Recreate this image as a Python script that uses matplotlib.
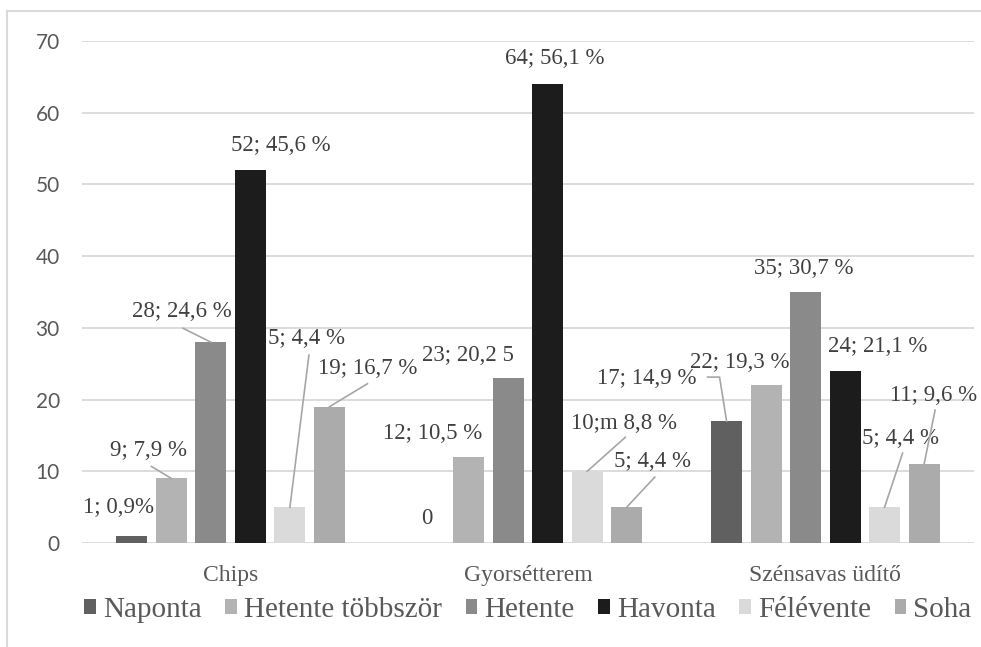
import numpy as np
import matplotlib.pyplot as plt
from matplotlib.lines import Line2D

# data
categories = ["Chips", "Gyorsétterem", "Szénsavas üdítő"]
series_names = ["Naponta", "Hetente többször", "Hetente", "Havonta", "Félévente", "Soha"]
naponta = [1, 0, 17]
hetente_tobbszor = [9, 12, 22]
hetente = [28, 23, 35]
havonta = [52, 64, 24]
felevente = [5, 10, 5]
soha = [19, 5, 11]

lab_naponta = ["1; 0,9%", "0", "17; 14,9 %"]
lab_hetente_tobbszor = ["9; 7,9 %", "12; 10,5 %", "22; 19,3 %"]
lab_hetente = ["28; 24,6 %", "23; 20,2 5", "35; 30,7 %"]
lab_havonta = ["52; 45,6 %", "64; 56,1 %", "24; 21,1 %"]
lab_felevente = ["5; 4,4 %", "10;m 8,8 %", "5; 4,4 %"]
lab_soha = ["19; 16,7 %", "5; 4,4 %", "11; 9,6 %"]

values = [naponta, hetente_tobbszor, hetente, havonta, felevente, soha]
labels = [lab_naponta, lab_hetente_tobbszor, lab_hetente, lab_havonta, lab_felevente, lab_soha]
colors = ["#606060", "#b3b3b3", "#8a8a8a", "#1c1c1c", "#dadada", "#ababab"]

# label placement (pixels from bar top), and leader lines
label_off = [
    [(-13, 28), (-2, 25), (-80, 43)],
    [(-23, 28), (-36, 23), (-26, 23)],
    [(-29, 31), (-40, 23), (-2, 24)],
    [(30, 25), (7, 26), (33, 24)],
    [(17, 169), (37, 48), (16, 69)],
    [(38, 38), (26, 46), (9, 69)],
]
leaders = {
    (1, 0): [(-20, 12)],
    (2, 0): [(-28, 14)],
    (4, 0): [(19, 152)],
    (5, 0): [(38, 23)],
    (4, 1): [(38, 34)],
    (5, 1): [(28, 30)],
    (0, 2): [(-19, 44), (-7, 44)],
    (4, 2): [(18, 54)],
    (5, 2): [(11, 54)],
}

W, H = 981, 647
fig = plt.figure(figsize=(W / 100, H / 100), dpi=100)
ax = fig.add_axes([82 / W, 104 / H, 892 / W, 502 / H])

x = np.arange(len(categories))
step = 39.5 / 297.3
width = 31 / 297.3

serif = "Liberation Serif"
bars = []
for i, (vals, col, name) in enumerate(zip(values, colors, series_names)):
    pos = x + (i - 2.5) * step
    b = ax.bar(pos, vals, width, color=col, label=name, zorder=2)
    bars.append(b)

ax.set_xlim(-0.5, 2.5)
ax.set_ylim(0, 70)
fig.canvas.draw()

for i, (vals, labs) in enumerate(zip(values, labels)):
    pos = x + (i - 2.5) * step
    for j in range(len(categories)):
        dx, dy = label_off[i][j]
        ax.annotate(labs[j], xy=(pos[j], vals[j]), xytext=(dx, dy),
                    textcoords="offset pixels", ha="center", va="center",
                    fontsize=16.5, family=serif, color="#404040")
        if (i, j) in leaders:
            bx, by = ax.transData.transform((pos[j], vals[j]))
            pts = [(bx + ox, by + oy) for ox, oy in leaders[(i, j)]] + [(bx, by)]
            data_pts = ax.transData.inverted().transform(pts)
            ax.plot(data_pts[:, 0], data_pts[:, 1], color="#a6a6a6", lw=1.2,
                    clip_on=False, zorder=3)

ax.set_yticks(range(0, 80, 10))
ax.set_xticks(x, categories)
ax.tick_params(axis="y", length=0, pad=16, labelsize=15, labelcolor="#595959")
ax.tick_params(axis="x", length=0, pad=16, labelsize=17, labelcolor="#595959")
for t in ax.get_yticklabels():
    t.set_family("Lato")
for t in ax.get_xticklabels():
    t.set_family(serif)
ax.yaxis.grid(True, color="#d9d9d9", lw=1.3, zorder=0)
ax.set_axisbelow(True)
for s in ax.spines.values():
    s.set_visible(False)

fig.legend(handles=bars, labels=series_names, loc="center",
           bbox_to_anchor=(528 / W, 1 - 610 / H), ncol=6, frameon=False,
           prop={"family": serif, "size": 21}, labelcolor="#595959",
           handlelength=0.4, handleheight=0.4, handletextpad=0.25,
           columnspacing=0.8, borderpad=0)

# outer frame (top and left edge only visible)
fig.add_artist(Line2D([7 / W, 1], [1 - 11 / H, 1 - 11 / H], color="#d9d9d9", lw=1.5))
fig.add_artist(Line2D([7 / W, 7 / W], [0, 1 - 11 / H], color="#d9d9d9", lw=1.5))

fig.savefig("out.png", dpi=100)
